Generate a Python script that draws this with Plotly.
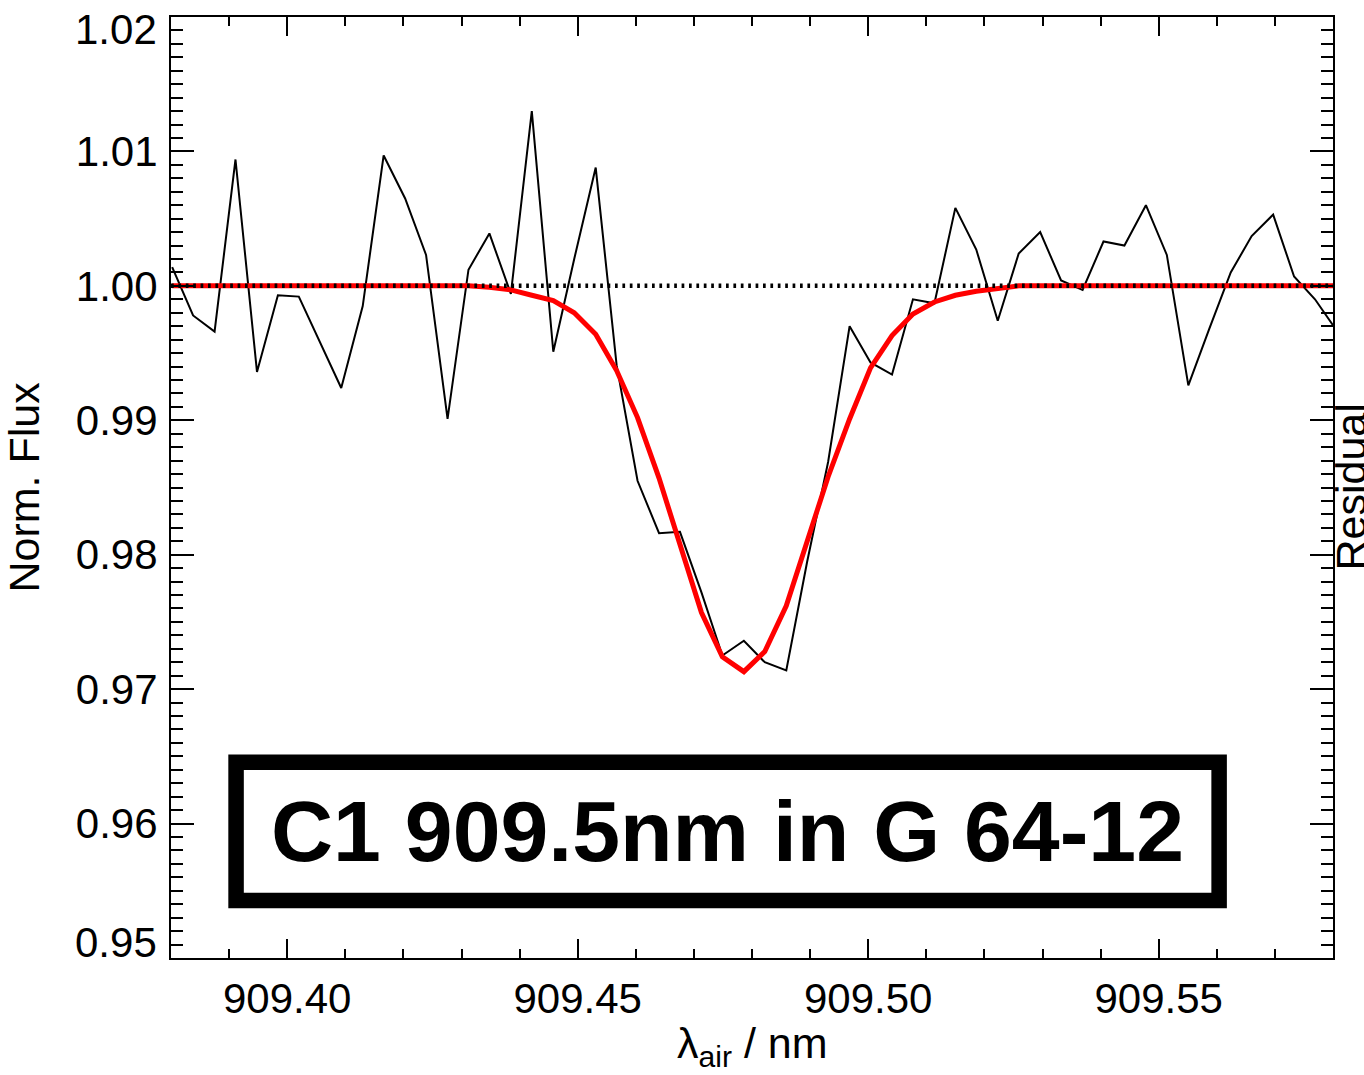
import plotly.graph_objects as go

# ---------------- data ----------------
WAVELENGTH_NM = [
    909.3802, 909.3838, 909.3875, 909.3911, 909.3948, 909.3984, 909.4020, 909.4057,
    909.4093, 909.4130, 909.4166, 909.4203, 909.4239, 909.4276, 909.4312, 909.4348,
    909.4385, 909.4421, 909.4458, 909.4494, 909.4531, 909.4567, 909.4603, 909.4640,
    909.4676, 909.4713, 909.4749, 909.4786, 909.4822, 909.4859, 909.4895, 909.4931,
    909.4968, 909.5004, 909.5041, 909.5077, 909.5114, 909.5150, 909.5186, 909.5223,
    909.5259, 909.5296, 909.5332, 909.5369, 909.5405, 909.5441, 909.5478, 909.5514,
    909.5551, 909.5587, 909.5624, 909.5660, 909.5697, 909.5733, 909.5769, 909.5806,
]

OBSERVED_FLUX = [
    1.0014, 0.9978, 0.9966, 1.0094, 0.9936, 0.9993, 0.9992, 0.9958,
    0.9924, 0.9985, 1.0097, 1.0065, 1.0023, 0.9901, 1.0012, 1.0039,
    0.9994, 1.0130, 0.9951, 1.0020, 1.0088, 0.9941, 0.9855, 0.9816,
    0.9817, 0.9772, 0.9725, 0.9736, 0.9720, 0.9714, 0.9795, 0.9869,
    0.9970, 0.9943, 0.9934, 0.9990, 0.9987, 1.0058, 1.0027, 0.9974,
    1.0024, 1.0040, 1.0004, 0.9997, 1.0033, 1.0030, 1.0060, 1.0023,
    0.9926, 0.9968, 1.0010, 1.0037, 1.0053, 1.0007, 0.9990, 0.9967,
]

FIT_FLUX = [
    1.0000, 1.0000, 1.0000, 1.0000, 1.0000, 1.0000, 1.0000, 1.0000,
    1.0000, 1.0000, 1.0000, 1.0000, 1.0000, 1.0000, 1.0000, 0.9999,
    0.9997, 0.9993, 0.9989, 0.9980, 0.9964, 0.9937, 0.9902, 0.9857,
    0.9809, 0.9757, 0.9724, 0.9713, 0.9728, 0.9762, 0.9810, 0.9858,
    0.9901, 0.9939, 0.9963, 0.9979, 0.9988, 0.9993, 0.9996, 0.9998,
    1.0000, 1.0000, 1.0000, 1.0000, 1.0000, 1.0000, 1.0000, 1.0000,
    1.0000, 1.0000, 1.0000, 1.0000, 1.0000, 1.0000, 1.0000, 1.0000,
]

CONTINUUM = 1.0

X_RANGE = [909.38, 909.58]
Y_RANGE = [0.95, 1.02]

X_TICKS = [909.40, 909.45, 909.50, 909.55]
X_TICK_LABELS = ["909.40", "909.45", "909.50", "909.55"]

# interior y ticks drawn by the axis; the two end labels are placed separately
Y_TICKS = [0.96, 0.97, 0.98, 0.99, 1.00, 1.01]
Y_TICK_LABELS = ["0.96", "0.97", "0.98", "0.99", "1.00", "1.01"]
Y_END_TICKS = [0.95, 1.02]
Y_END_LABELS = ["0.95", "1.02"]

LABEL_TEXT = "C1 909.5nm in G 64-12"
X_TITLE = "λ<sub>air</sub> / nm"
Y_TITLE = "Norm. Flux"
Y2_TITLE = "Residual"

# ---------------- layout constants ----------------
FONT = "Liberation Sans, Arial, Helvetica, sans-serif"
TICK_SIZE = 42
TITLE_SIZE = 43
BOX_X = [909.3912, 909.5604]
BOX_Y = [0.95428, 0.96457]

fig = go.Figure()

fig.add_trace(go.Scatter(
    x=WAVELENGTH_NM, y=OBSERVED_FLUX, mode="lines",
    line=dict(color="black", width=2), showlegend=False, hoverinfo="skip",
))
fig.add_trace(go.Scatter(
    x=WAVELENGTH_NM, y=FIT_FLUX, mode="lines",
    line=dict(color="#ff0000", width=5), showlegend=False, hoverinfo="skip",
))

fig.add_hline(y=CONTINUUM, line=dict(color="black", width=4.5, dash="2.7px,4.7px"))

fig.add_shape(
    type="rect", xref="x", yref="y",
    x0=BOX_X[0], x1=BOX_X[1], y0=BOX_Y[0], y1=BOX_Y[1],
    line=dict(color="black", width=15.5), fillcolor="rgba(0,0,0,0)",
)

end_shifts = [15.5, -12]
annotations = [
    dict(x=(BOX_X[0] + BOX_X[1]) / 2, y=(BOX_Y[0] + BOX_Y[1]) / 2, xref="x", yref="y",
         text="<b>" + LABEL_TEXT + "</b>", showarrow=False,
         font=dict(family=FONT, size=86, color="black"),
         xanchor="center", yanchor="middle"),
    # axis titles
    dict(x=0.5, xref="paper", y=0, yref="paper", yanchor="middle", yshift=-88,
         text=X_TITLE, showarrow=False,
         font=dict(family=FONT, size=TITLE_SIZE, color="black")),
    dict(x=0, xref="paper", xanchor="center", xshift=-148, y=0.5, yref="paper",
         yanchor="middle", textangle=-90, text=Y_TITLE, showarrow=False,
         font=dict(family=FONT, size=TITLE_SIZE, color="black")),
    dict(x=1, xref="paper", xanchor="center", xshift=17, y=0.5, yref="paper",
         yanchor="middle", textangle=-90, text=Y2_TITLE, showarrow=False,
         font=dict(family=FONT, size=TITLE_SIZE, color="black")),
]
for val, lab, shift in zip(Y_END_TICKS, Y_END_LABELS, end_shifts):
    annotations.append(dict(
        x=0, xref="paper", xanchor="right", xshift=-12,
        y=val, yref="y", yanchor="middle", yshift=shift,
        text=lab, showarrow=False,
        font=dict(family=FONT, size=TICK_SIZE, color="black")))

axis_common = dict(
    showline=True, linewidth=2, linecolor="black", mirror="ticks",
    ticks="inside", tickwidth=2, tickcolor="black",
    showgrid=False, zeroline=False,
    tickfont=dict(family=FONT, size=TICK_SIZE, color="black"),
)

fig.update_layout(
    width=1364, height=1075,
    margin=dict(l=171, r=31, t=17, b=117),
    paper_bgcolor="white", plot_bgcolor="white",
    showlegend=False,
    annotations=annotations,
    xaxis=dict(
        **axis_common,
        range=X_RANGE, tickmode="array", tickvals=X_TICKS, ticktext=X_TICK_LABELS,
        ticklen=19, ticklabelstandoff=3,
        minor=dict(ticks="inside", ticklen=9, tickwidth=2, tickcolor="black",
                   tickmode="linear", tick0=909.38, dtick=0.01, showgrid=False),
    ),
    yaxis=dict(
        **axis_common,
        range=Y_RANGE, tickmode="array", tickvals=Y_TICKS, ticktext=Y_TICK_LABELS,
        ticklen=23, ticklabelstandoff=3,
        minor=dict(ticks="inside", ticklen=12, tickwidth=2, tickcolor="black",
                   tickmode="linear", tick0=0.95, dtick=0.001, showgrid=False),
    ),
)

fig.write_html("out.html", config={"displayModeBar": False},
               post_script="document.body.style.margin='0px';")
